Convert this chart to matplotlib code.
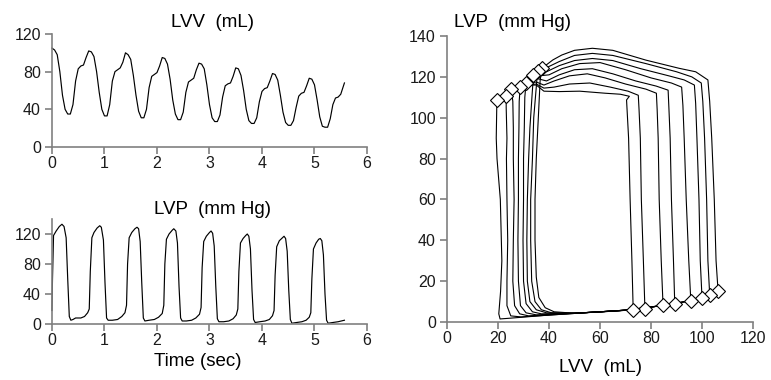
import matplotlib
matplotlib.use('Agg')
import matplotlib.pyplot as plt

plt.rcParams['font.family'] = ['Liberation Sans', 'DejaVu Sans']

# --- LVV time series (sec, mL) ---
lvv_t = [0.00, 0.05, 0.10, 0.15, 0.20, 0.25, 0.30, 0.35, 0.40, 0.45, 0.50, 0.55, 0.60, 0.65,
         0.70, 0.75, 0.80, 0.85, 0.90, 0.95, 1.00, 1.05, 1.10, 1.15, 1.20, 1.25, 1.30, 1.35,
         1.40, 1.45, 1.50, 1.55, 1.60, 1.65, 1.70, 1.75, 1.80, 1.85, 1.90, 1.95, 2.00, 2.05,
         2.10, 2.15, 2.20, 2.25, 2.30, 2.35, 2.40, 2.45, 2.50, 2.55, 2.60, 2.65, 2.70, 2.75,
         2.80, 2.85, 2.90, 2.95, 3.00, 3.05, 3.10, 3.15, 3.20, 3.25, 3.30, 3.35, 3.40, 3.45,
         3.50, 3.55, 3.60, 3.65, 3.70, 3.75, 3.80, 3.85, 3.90, 3.95, 4.00, 4.05, 4.10, 4.15,
         4.20, 4.25, 4.30, 4.35, 4.40, 4.45, 4.50, 4.55, 4.60, 4.65, 4.70, 4.75, 4.80, 4.85,
         4.90, 4.95, 5.00, 5.05, 5.10, 5.15, 5.20, 5.25, 5.30, 5.35, 5.40, 5.45, 5.50, 5.57]
lvv_v = [105, 103, 98, 80, 55, 40, 35, 35, 45, 70, 83, 86, 87, 95,
         102, 101, 96, 80, 58, 40, 33, 33, 45, 70, 80, 82, 84, 90,
         100, 98, 93, 76, 55, 38, 31, 31, 40, 63, 75, 77, 79, 86,
         95, 94, 88, 72, 50, 35, 29, 29, 37, 58, 69, 71, 73, 82,
         89, 88, 83, 66, 45, 31, 27, 27, 34, 53, 65, 67, 68, 75,
         84, 83, 76, 60, 40, 28, 25, 25, 31, 48, 59, 62, 63, 70,
         78, 77, 71, 55, 37, 26, 23, 23, 28, 42, 54, 57, 58, 65,
         73, 72, 66, 50, 32, 22, 21, 21, 30, 45, 52, 53, 56, 68]

# --- LVP time series (sec, mm Hg) ---
lvp_t = [0.00, 0.01, 0.03, 0.08, 0.14, 0.19, 0.23, 0.27, 0.30, 0.33, 0.36, 0.40, 0.45, 0.55, 0.62, 0.68,
         0.71, 0.73, 0.76, 0.80, 0.86, 0.91, 0.94, 0.98, 1.01, 1.04, 1.07, 1.15, 1.25, 1.33, 1.39,
         1.42, 1.44, 1.47, 1.52, 1.58, 1.62, 1.65, 1.68, 1.71, 1.74, 1.77, 1.85, 1.95, 2.03, 2.10,
         2.13, 2.15, 2.18, 2.23, 2.29, 2.32, 2.36, 2.39, 2.42, 2.45, 2.48, 2.56, 2.66, 2.74, 2.81,
         2.84, 2.86, 2.89, 2.94, 3.00, 3.03, 3.06, 3.09, 3.12, 3.15, 3.18, 3.27, 3.37, 3.45, 3.51,
         3.54, 3.56, 3.59, 3.64, 3.69, 3.72, 3.75, 3.78, 3.81, 3.84, 3.87, 3.96, 4.06, 4.14, 4.20,
         4.23, 4.25, 4.28, 4.33, 4.39, 4.42, 4.45, 4.48, 4.51, 4.54, 4.57, 4.66, 4.76, 4.84, 4.90,
         4.93, 4.95, 4.98, 5.03, 5.08, 5.11, 5.14, 5.17, 5.20, 5.23, 5.26, 5.35, 5.45, 5.57]
lvp_p = [18, 60, 118, 124, 130, 133, 130, 115, 60, 10, 5, 6, 8, 8, 10, 15,
         20, 70, 115, 122, 128, 131, 129, 112, 55, 8, 5, 5, 6, 10, 15,
         25, 80, 115, 122, 127, 129, 127, 110, 55, 8, 4, 5, 6, 9, 14,
         25, 80, 113, 120, 125, 127, 124, 108, 50, 8, 4, 4, 5, 8, 13,
         22, 75, 110, 117, 122, 124, 121, 104, 50, 7, 3, 3, 4, 7, 12,
         20, 70, 108, 114, 118, 120, 117, 100, 45, 6, 2, 3, 4, 6, 11,
         18, 65, 103, 111, 115, 117, 114, 97, 45, 6, 1, 2, 3, 5, 9,
         15, 60, 100, 108, 113, 114, 111, 92, 40, 5, 1, 2, 3, 5]

# --- pressure-volume loops (mL, mm Hg), one list per beat, first beat = largest ---
loop_v = [
    [106.3, 105.5, 104.8, 103.8, 103.0, 102.3, 97.5, 91, 78, 65, 57, 50, 45, 41.5, 37.2,
     36.5, 35.8, 35.0, 34.5, 34.5, 35.0, 36.0, 38.5, 42, 50, 60, 70, 80, 90, 100, 106.3],
    [103.0, 102.3, 101.8, 101.0, 100.3, 99.7, 96, 90, 78, 65, 57, 50, 44, 39, 35.5,
     35.0, 34.0, 33.5, 32.8, 32.8, 33.2, 34.5, 37, 41, 50, 60, 70, 80, 90, 97, 103.0],
    [100.0, 99.3, 98.8, 98.0, 97.5, 97.0, 93, 87, 76, 65, 57, 50, 44, 39, 36, 33.9,
     33.4, 32.5, 32.0, 31.5, 31.3, 31.5, 32.5, 35, 39, 50, 60, 70, 80, 90, 100.0],
    [95.6, 94.8, 93.8, 93.0, 92.5, 92.0, 88, 80, 70, 60, 52, 45, 40, 36, 33.9, 31.0,
     30.5, 30.3, 30.0, 30.0, 29.8, 30.0, 31.0, 33.5, 37, 50, 60, 70, 80, 88, 95.6],
    [89.3, 88.8, 88.0, 87.5, 87.0, 86.7, 82, 74, 65, 57, 50, 44, 39, 36, 33, 31, 28.7,
     28.3, 28.2, 28.0, 28.0, 27.8, 28.0, 28.8, 31, 35, 50, 60, 70, 80, 89.3],
    [84.7, 84.0, 83.2, 82.8, 82.4, 82.1, 78, 70, 62, 55, 48, 42, 38, 35, 31, 28.7, 25.2,
     25.8, 26.0, 26.0, 26.3, 26.0, 25.8, 26.5, 28.5, 32, 50, 60, 70, 78, 84.7],
    [77.6, 77.0, 76.2, 75.8, 75.3, 75.0, 71, 64, 56, 48, 42, 38, 35, 31, 28, 25.2, 23.2,
     23.2, 23.5, 23.3, 23.5, 23.8, 23.5, 23.5, 25, 29, 45, 55, 65, 72, 77.6],
    [73.0, 72.5, 71.8, 71.2, 70.6, 70.4, 71.5, 68, 62, 52, 44, 38, 35, 31, 28, 25, 23, 19.6,
     19.5, 19.3, 19.6, 20.9, 21.5, 21.0, 20.3, 20.8, 24, 40, 55, 65, 73.0],
]
loop_p = [
    [15, 30, 60, 90, 108, 118.5, 122.5, 124.2, 128.2, 133, 134, 133, 130.7, 128.3, 124.2,
     118, 100, 80, 60, 40, 22, 12, 7, 5, 4.3, 5, 5.8, 7.3, 9.2, 11.7, 15],
    [13.4, 30, 60, 90, 108, 117, 120, 122.5, 126.5, 130.5, 131.5, 130.5, 127.5, 124.5, 123,
     115, 100, 80, 60, 40, 20, 10, 6, 4.5, 4.3, 5, 5.8, 7.3, 9.2, 10.8, 13.4],
    [11.7, 30, 60, 90, 107, 116, 118.5, 120.5, 124, 128, 129, 128, 125.5, 122.5, 122.5, 120.9,
     112, 95, 80, 60, 40, 20, 10, 6, 4.5, 4.3, 5, 5.8, 7.3, 9.2, 11.7],
    [10.4, 30, 60, 90, 106, 115, 117, 119.5, 123.5, 127, 126.5, 124, 121, 120.5, 119.5, 117.2,
     110, 95, 80, 60, 40, 20, 9, 5, 4, 4.3, 5, 5.8, 7.3, 8.8, 10.4],
    [9, 30, 60, 90, 105, 113.5, 115.5, 118, 121.5, 124, 123.5, 121, 118, 119, 118.5, 117, 115.2,
     108, 95, 80, 60, 40, 20, 8, 4.5, 3.5, 4.3, 5, 5.8, 7.3, 9],
    [8.5, 30, 60, 90, 104, 112, 114, 116.5, 119.5, 121.5, 120.5, 118, 116, 117.5, 116.5, 115.2, 114.1,
     108, 95, 80, 60, 40, 20, 8, 4, 3, 4.3, 5, 5.8, 6.8, 8.5],
    [6.5, 30, 60, 90, 104, 111, 113, 115, 117, 116.5, 115, 114.5, 116.5, 116, 114.5, 113.5, 110.8,
     105, 90, 80, 60, 40, 20, 8, 3, 2.5, 3.8, 4.6, 5.3, 5.9, 6.5],
    [6, 30, 60, 90, 104, 108.7, 110.5, 111.5, 112, 113, 112.8, 113, 116, 116, 114.5, 113, 110.5, 108.7,
     105, 90, 80, 60, 30, 15, 4, 1.5, 1.8, 3.4, 4.6, 5.3, 6],
]

# end-systolic and end-diastolic markers
es_v = [37.2, 35.5, 33.9, 31.0, 28.7, 25.2, 23.2, 19.6]
es_p = [124.2, 123.0, 120.9, 117.2, 115.2, 114.1, 110.8, 108.7]
ed_v = [106.3, 103.0, 100.0, 95.6, 89.3, 84.7, 77.6, 73.0]
ed_p = [15.0, 13.4, 11.7, 10.4, 9.0, 8.5, 6.5, 6.0]

AXIS_GRAY = '#808080'
TICK_FS = 11.5
LABEL_FS = 13.5


def style_axes(ax):
    for side in ('top', 'right'):
        ax.spines[side].set_visible(False)
    for side in ('left', 'bottom'):
        ax.spines[side].set_color(AXIS_GRAY)
        ax.spines[side].set_linewidth(1.2)
    ax.tick_params(direction='out', length=5, width=1.2, color=AXIS_GRAY,
                   labelsize=TICK_FS, labelcolor='#1a1a1a')
    ax.tick_params(axis='x', pad=1.5)
    ax.tick_params(axis='y', pad=3)
    ax.patch.set_alpha(0)


fig = plt.figure(figsize=(7.71, 3.80), dpi=100)

# --- top left: LVV vs time ---
ax1 = fig.add_axes([0.0674, 0.6132, 0.4086, 0.2974])
ax1.plot(lvv_t, lvv_v, color='black', linewidth=0.85, clip_on=False)
ax1.set_xlim(0, 6)
ax1.set_ylim(0, 120)
ax1.set_xticks(range(0, 7))
ax1.set_yticks([0, 40, 80, 120])
style_axes(ax1)
fig.text(0.275, 0.942, 'LVV  (mL)', ha='center', va='center', fontsize=LABEL_FS)

# --- bottom left: LVP vs time ---
ax2 = fig.add_axes([0.0674, 0.1474, 0.4086, 0.2763])
ax2.plot(lvp_t, lvp_p, color='black', linewidth=0.85, clip_on=False)
ax2.set_xlim(0, 6)
ax2.set_ylim(0, 140)
ax2.set_xticks(range(0, 7))
ax2.set_yticks([0, 40, 80, 120])
style_axes(ax2)
fig.text(0.275, 0.45, 'LVP  (mm Hg)', ha='center', va='center', fontsize=LABEL_FS)
fig.text(0.257, 0.05, 'Time (sec)', ha='center', va='center', fontsize=LABEL_FS)

# --- right: pressure-volume loops ---
ax3 = fig.add_axes([0.5798, 0.1526, 0.3969, 0.7526])
for vs, ps in zip(loop_v, loop_p):
    ax3.plot(vs, ps, color='black', linewidth=0.8, clip_on=False)
ax3.plot(es_v, es_p, linestyle='none', marker='D', markersize=7.5,
         markerfacecolor='white', markeredgecolor='black', markeredgewidth=0.8, clip_on=False)
ax3.plot(ed_v, ed_p, linestyle='none', marker='D', markersize=7.5,
         markerfacecolor='white', markeredgecolor='black', markeredgewidth=0.8, clip_on=False)
ax3.set_xlim(0, 120)
ax3.set_ylim(0, 140)
ax3.set_xticks(range(0, 121, 20))
ax3.set_yticks(range(0, 141, 20))
style_axes(ax3)
fig.text(0.665, 0.942, 'LVP  (mm Hg)', ha='center', va='center', fontsize=LABEL_FS)
fig.text(0.779, 0.032, 'LVV  (mL)', ha='center', va='center', fontsize=LABEL_FS)

fig.savefig('out.png', dpi=100)
